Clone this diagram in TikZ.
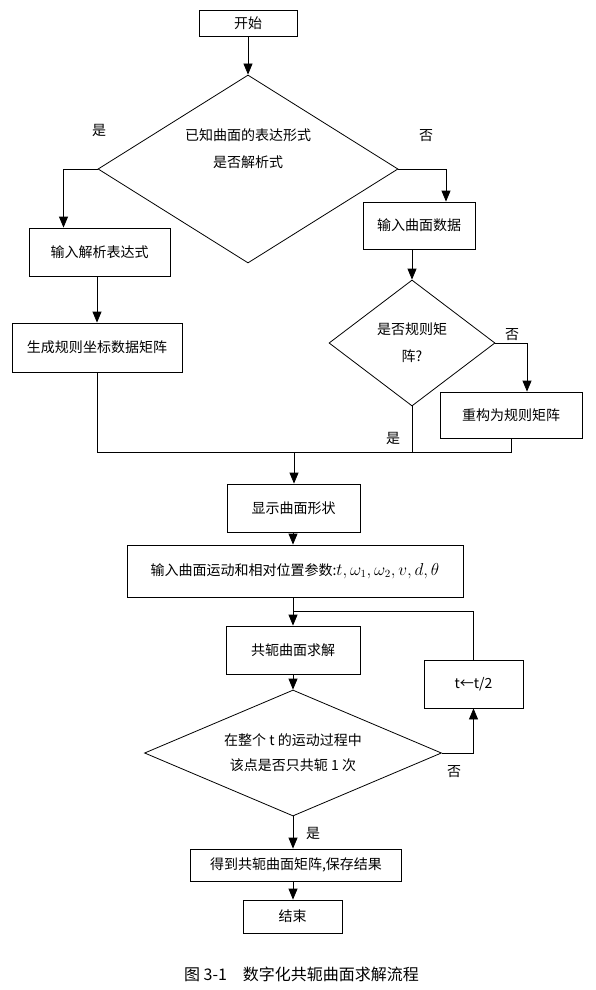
\documentclass[tikz,border=0pt]{standalone}
\usepackage{fontspec}
\setmainfont{Noto Sans CJK SC}
\usetikzlibrary{positioning, shapes.geometric, arrows.meta}

\begin{document}
\begin{tikzpicture}[x=1pt, y=-1pt, line width=0.8pt,
    >={Triangle[length=11pt, width=9pt]},
    txt/.style={font=\fontsize{14pt}{27pt}\selectfont},
    box/.style={draw, rectangle, inner sep=0pt, txt},
    decide/.style={draw, diamond, inner sep=0pt, align=center, txt},
    lbl/.style={inner sep=0pt, txt}]
    \useasboundingbox (0,0) rectangle (596,990);

    \node[box, minimum width=98pt, minimum height=26pt] (start) at (248,23) {开始};
    \node[decide, minimum width=300pt, minimum height=188pt,
          label={[txt, align=center, yshift=20pt]center:{已知曲面的表达形式\\是否解析式}}] (known) at (248,169) {};
    \node[box, minimum width=141pt, minimum height=48pt] (expr) at (99.5,252) {输入解析表达式};
    \node[box, minimum width=170pt, minimum height=49pt] (grid) at (97,347.5) {生成规则坐标数据矩阵};
    \node[box, minimum width=112pt, minimum height=47pt] (data) at (419,225.5) {输入曲面数据};
    \node[decide, minimum width=166pt, minimum height=126pt, aspect=1.3] (regular) at (412,343) {是否规则矩\\阵?};
    \node[box, minimum width=142pt, minimum height=46pt] (fix) at (511,415) {重构为规则矩阵};
    \node[box, minimum width=133pt, minimum height=48pt] (show) at (293.5,508) {显示曲面形状};
    \node[box, minimum width=336pt, minimum height=52pt] (param) at (295,571)
          {输入曲面运动和相对位置参数:{\fontsize{16pt}{18pt}\selectfont$t,\omega_1,\omega_2,v,d,\theta$}};
    \node[box, minimum width=134pt, minimum height=48pt] (solve) at (293,650) {共轭曲面求解};
    \node[box, minimum width=99pt, minimum height=48pt] (half) at (473.5,684) {t←t/2};
    \node[decide, minimum width=297pt, minimum height=126pt, aspect=2.36,
          font=\fontsize{14pt}{25pt}\selectfont] (once) at (293,753) {在整个 t 的运动过程中\\该点是否只共轭 1 次};
    \node[box, minimum width=211pt, minimum height=32pt] (save) at (296,865) {得到共轭曲面矩阵,保存结果};
    \node[box, minimum width=99pt, minimum height=33pt] (stop) at (292.5,916.5) {结束};
    \node[font=\fontsize{16pt}{18pt}\selectfont] (cap) at (301.5,974) {图 3-1\quad 数字化共轭曲面求解流程};

    % yes / no labels
    \node[lbl] (yes1) at (99,130) {是};
    \node[lbl] (no1) at (426,136) {否};
    \node[lbl] (no2) at (512,335) {否};
    \node[lbl] (yes2) at (393,438) {是};
    \node[lbl] (no3) at (454,772) {否};
    \node[lbl] (yes3) at (313,833) {是};

    \coordinate (join) at (294,452);
    \coordinate (loop) at (293,611);

    \draw[->] (start) -- (known);
    \draw[->] (known.west) -| ([xshift=-36pt]expr.north);
    \draw[->] (known.east) -| ([xshift=27pt]data.north);
    \draw[->] (expr.south -| grid.north) -- (grid.north);
    \draw[->] (data.south -| regular.north) -- (regular.north);
    \draw[->] (regular.east) -| ([xshift=16pt]fix.north);
    \draw (grid.south) |- (fix.south |- join) -- (fix.south);
    \draw (regular.south) -- (regular.south |- join);
    \draw[->] (join) -- (join |- show.north);
    \draw[->] (show.south -| loop) -- (param.north -| loop);
    \draw (param.south -| loop) -- (loop);
    \draw[->] (loop) -- (solve.north);
    \draw[->] (solve) -- (once);
    \draw[->] (once.east) -| (half.south);
    \draw (half.north) |- (loop);
    \draw[->] (once.south) -- (save.north -| once.south);
    \draw[->] (save.south -| once.south) -- (stop.north -| once.south);
\end{tikzpicture}
\end{document}
